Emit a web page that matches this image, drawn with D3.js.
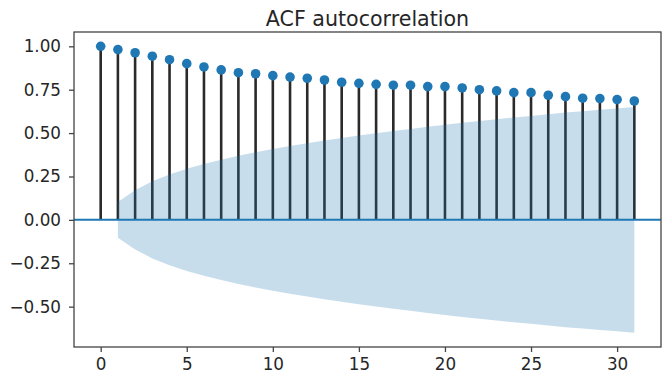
<!DOCTYPE html>
<html>
<head>
<meta charset="utf-8">
<script src="https://cdn.jsdelivr.net/npm/d3@7"></script>
<style>
  html, body { margin: 0; padding: 0; background: #fff; }
  svg { display: block; }
  text { font-family: "DejaVu Sans", sans-serif; fill: #262626; }
</style>
</head>
<body>
<div id="acfChart"></div>
<script>
const title = 'ACF autocorrelation';

const lags = [0, 1, 2, 3, 4, 5, 6, 7, 8, 9, 10, 11, 12, 13, 14, 15,
  16, 17, 18, 19, 20, 21, 22, 23, 24, 25, 26, 27, 28, 29, 30, 31];

const acfValues = [1.000, 0.981, 0.963, 0.943, 0.923, 0.900, 0.881, 0.864,
  0.848, 0.842, 0.831, 0.823, 0.816, 0.806, 0.793, 0.787,
  0.781, 0.776, 0.776, 0.768, 0.768, 0.760, 0.750, 0.743,
  0.733, 0.733, 0.718, 0.710, 0.701, 0.699, 0.693, 0.685];

// half-width of the confidence band, lags 1..31
const bandLags = [1, 2, 3, 4, 5, 6, 7, 8, 9, 10, 11, 12, 13, 14, 15, 16,
  17, 18, 19, 20, 21, 22, 23, 24, 25, 26, 27, 28, 29, 30, 31];
const bandValues = [0.103, 0.170, 0.222, 0.261, 0.294, 0.322, 0.347, 0.369,
  0.389, 0.408, 0.426, 0.442, 0.458, 0.472, 0.486, 0.499,
  0.512, 0.524, 0.536, 0.548, 0.559, 0.570, 0.580, 0.590,
  0.599, 0.609, 0.618, 0.626, 0.634, 0.642, 0.650];

const xTicks = [0, 5, 10, 15, 20, 25, 30];
const yTicks = [1.0, 0.75, 0.5, 0.25, 0.0, -0.25, -0.5];

function createChart() {
  const width = 662;
  const height = 373;
  const left = 74, right = 661, top = 32, bottom = 347;
  const blue = '#1f77b4';

  const svg = d3
    .select('#acfChart')
    .append('svg')
    .attr('width', width)
    .attr('height', height)
    .attr('viewBox', `0 0 ${width} ${height}`);

  const x = d3.scaleLinear().domain([-1.55, 32.55]).range([left, right]);
  const y = d3.scaleLinear().domain([-0.7325, 1.0825]).range([bottom, top]);

  // stems
  svg
    .append('g')
    .selectAll('line')
    .data(lags)
    .enter()
    .append('line')
    .attr('x1', (d) => x(d))
    .attr('x2', (d) => x(d))
    .attr('y1', y(0))
    .attr('y2', (d, i) => y(acfValues[i]))
    .attr('stroke', '#2a2a2a')
    .attr('stroke-width', 2.6);

  // markers
  svg
    .append('g')
    .selectAll('circle')
    .data(lags)
    .enter()
    .append('circle')
    .attr('cx', (d) => x(d))
    .attr('cy', (d, i) => y(acfValues[i]))
    .attr('r', 4.8)
    .attr('fill', blue);

  // confidence band
  const band = d3
    .area()
    .x((d) => x(d))
    .y0((d, i) => y(-bandValues[i]))
    .y1((d, i) => y(bandValues[i]));

  svg
    .append('path')
    .datum(bandLags)
    .attr('d', band)
    .attr('fill', blue)
    .attr('fill-opacity', 0.25);

  // zero line
  svg
    .append('line')
    .attr('x1', left)
    .attr('x2', right)
    .attr('y1', y(0))
    .attr('y2', y(0))
    .attr('stroke', blue)
    .attr('stroke-width', 2);

  // axes
  const xAxis = d3
    .axisBottom(x)
    .tickValues(xTicks)
    .tickSize(5)
    .tickPadding(6)
    .tickFormat(d3.format('d'));

  const yAxis = d3
    .axisLeft(y)
    .tickValues(yTicks)
    .tickSize(5)
    .tickPadding(8)
    .tickFormat(d3.format('.2f'));

  const gx = svg.append('g').attr('transform', `translate(0,${bottom})`).call(xAxis);
  const gy = svg.append('g').attr('transform', `translate(${left},0)`).call(yAxis);

  [gx, gy].forEach((g) => {
    g.select('.domain').remove();
    g.selectAll('.tick line').attr('stroke', '#444').attr('stroke-width', 1.3);
    g.selectAll('.tick text')
      .attr('font-size', '16.8px')
      .attr('font-family', '"DejaVu Sans", sans-serif')
      .attr('fill', '#262626');
  });

  // spines
  svg
    .append('rect')
    .attr('x', left)
    .attr('y', top)
    .attr('width', right - left)
    .attr('height', bottom - top)
    .attr('fill', 'none')
    .attr('stroke', '#444')
    .attr('stroke-width', 1.3);

  svg
    .append('text')
    .attr('x', (left + right) / 2)
    .attr('y', 26)
    .attr('text-anchor', 'middle')
    .attr('font-size', '20.6px')
    .text(title);
}

createChart();
</script>
</body>
</html>
